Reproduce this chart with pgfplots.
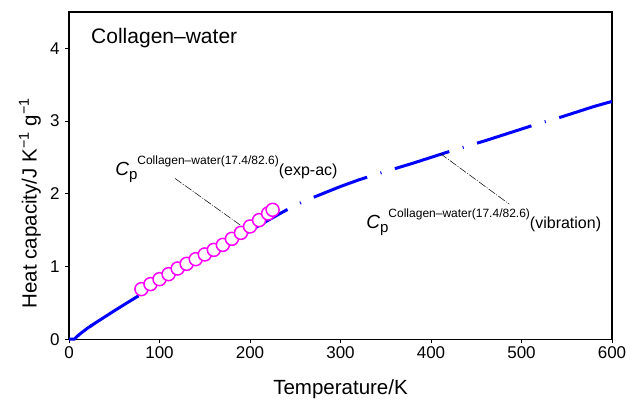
\documentclass[border=0pt]{standalone}
\usepackage{fontspec}
\setmainfont{Liberation Sans}
\usepackage{pgfplots}
\pgfplotsset{compat=1.18}
\definecolor{cpblue}{RGB}{0,0,255}
\definecolor{cpmag}{RGB}{255,0,255}
\newcommand{\Cpl}[1]{{\fontsize{19}{22}\selectfont\itshape C}\raisebox{-4pt}{\fontsize{15}{18}\selectfont p}\raisebox{11pt}{\fontsize{12}{14}\selectfont Collagen–water(17.4/82.6)}{\fontsize{16}{19}\selectfont #1}}
\begin{document}
\begin{tikzpicture}
\begin{axis}[
  scale only axis, width=542.7pt, height=327pt,
  xmin=0, xmax=600, ymin=0, ymax=4.5,
  xtick={0,100,...,600}, ytick={0,1,2,3,4},
  tick align=outside, xtick pos=bottom, ytick pos=left,
  major tick length=4pt,
  axis line style={line width=1.3pt},
  tick style={line width=0.8pt, black},
  /pgf/number format/assume math mode=true,
  ticklabel style={font=\fontsize{17}{20}\selectfont},
  yticklabel style={xshift=-2pt},
  xlabel={Temperature/K},
  ylabel={Heat capacity/J K\textsuperscript{\textminus 1} g\textsuperscript{\textminus 1}},
  xlabel style={font=\fontsize{20.5}{24}\selectfont, at={(axis description cs:0.5,-0.152)}, anchor=center},
  ylabel style={font=\fontsize{20.5}{24}\selectfont, at={(axis description cs:-0.072,0.416)}, anchor=center},
  clip=false,
]
\addplot[cpblue, line width=3pt, dash pattern=on 57pt off 14pt on 1pt off 14pt, dash phase=60pt] coordinates {
(0,0) (6,0) (10,0.05) (15,0.1) (20,0.147) (30,0.23) (40,0.31) (50,0.39) (60,0.468)
(80,0.62) (100,0.77) (120,0.915) (140,1.06) (160,1.2) (180,1.345) (200,1.49) (220,1.635)
(240,1.775) (260,1.9) (280,2.0) (300,2.1) (320,2.19) (340,2.27) (360,2.345) (380,2.42)
(400,2.5) (420,2.58) (440,2.655) (460,2.73) (480,2.81) (500,2.89) (520,2.97) (540,3.04)
(560,3.12) (580,3.2) (600,3.27)
};
\addplot[cpblue, line width=3pt] coordinates {
(0,0) (6,0) (10,0.05) (15,0.1) (20,0.147) (25,0.19)
};
\addplot[only marks, mark=*, mark size=6.5pt, mark options={draw=cpmag, fill=white, line width=1.5pt}] coordinates {
(80,0.688) (90,0.757) (100,0.825) (110,0.894) (120,0.972) (130,1.036) (140,1.100) (150,1.165)
(160,1.228) (170,1.297) (180,1.380) (190,1.462) (200,1.550) (210,1.637) (220,1.729) (225,1.779)
};
\draw[black, line width=0.5pt, dash pattern=on 8pt off 1.5pt on 1pt off 1.5pt] (axis cs:117.2,2.21) -- (axis cs:190.9,1.554);
\draw[black, line width=0.5pt, dash pattern=on 8pt off 1.5pt on 1pt off 1.5pt] (axis cs:410.2,2.554) -- (axis cs:486.5,1.857);
\node[anchor=base west, inner sep=0pt] at (axis cs:50.9,2.256) {\Cpl{(exp-ac)}};
\node[anchor=base west, inner sep=0pt] at (axis cs:328.4,1.523) {\Cpl{(vibration)}};
\node[anchor=base west, inner sep=0pt, font=\fontsize{21}{25}\selectfont] at (axis cs:24.3,4.067) {Collagen–water};
\end{axis}
\pgfresetboundingbox
\path[use as bounding box] ([shift={(-69pt,-60pt)}]current axis.south west) rectangle ([shift={(20pt,12pt)}]current axis.north east);
\end{tikzpicture}
\end{document}
